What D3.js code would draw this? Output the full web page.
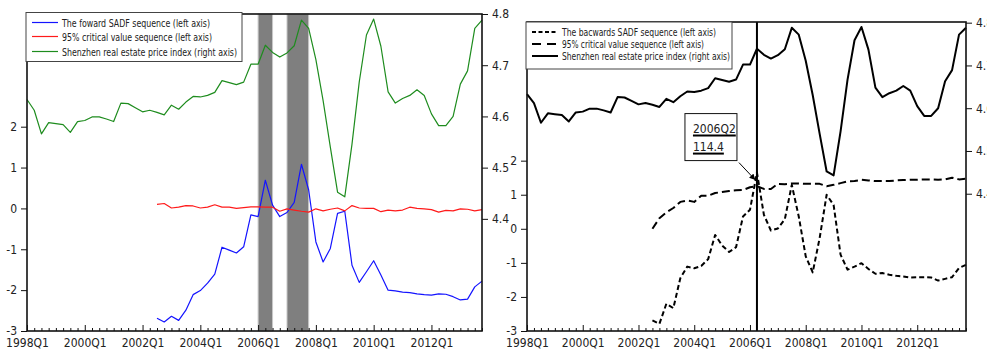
<!DOCTYPE html>
<html>
<head>
<meta charset="utf-8">
<script src="https://cdn.jsdelivr.net/npm/d3@7"></script>
<style>
  body { margin: 0; background: #fff; }
  svg text { font-family: "Liberation Sans Narrow", "Arial Narrow", "DejaVu Sans Condensed", sans-serif; fill: #222; }
</style>
</head>
<body>
<svg width="987" height="349"></svg>
<script>
// quarters 1998Q1 .. 2013Q4
const years = d3.range(1998, 2014);
const quarters = years.flatMap(y => [1, 2, 3, 4].map(q => y + 'Q' + q));
const tickLabels = ['1998Q1', '2000Q1', '2002Q1', '2004Q1', '2006Q1', '2008Q1', '2010Q1', '2012Q1'];
const leftTicks = [-3, -2, -1, 0, 1, 2];
const rightTicks = [4.4, 4.5, 4.6, 4.7, 4.8];

// Shenzhen real estate price index (log), 1998Q1..2013Q4
const priceIndex = [4.633, 4.612, 4.566, 4.588, 4.586, 4.584, 4.569, 4.590, 4.592, 4.599,
  4.599, 4.595, 4.590, 4.626, 4.625, 4.617, 4.609, 4.612, 4.608, 4.603,
  4.622, 4.614, 4.628, 4.639, 4.638, 4.641, 4.647, 4.670, 4.666, 4.662,
  4.667, 4.702, 4.702, 4.739, 4.725, 4.716, 4.724, 4.738, 4.788, 4.772,
  4.711, 4.631, 4.540, 4.452, 4.443, 4.546, 4.667, 4.759, 4.790, 4.737,
  4.648, 4.626, 4.635, 4.641, 4.652, 4.641, 4.605, 4.582, 4.582, 4.600,
  4.663, 4.689, 4.772, 4.788];

// SADF sequences start 2002Q3
const sadfStart = '2002Q3';
const forwardSADF = [-2.69, -2.78, -2.64, -2.74, -2.49, -2.11, -2.01, -1.83, -1.61, -0.95,
  -1.02, -1.09, -0.94, -0.16, -0.20, 0.69, 0.08, -0.20, -0.10, 0.15,
  1.08, 0.45, -0.82, -1.31, -0.98, -0.12, -0.07, -1.39, -1.81, -1.55,
  -1.28, -1.63, -2.00, -2.02, -2.05, -2.06, -2.09, -2.11, -2.12, -2.09,
  -2.10, -2.16, -2.24, -2.22, -1.92, -1.78];
const forwardCV = [0.10, 0.12, 0.01, 0.03, 0.07, 0.06, 0.01, 0.03, 0.09, 0.03,
  0.03, 0.00, 0.02, 0.04, 0.04, 0.03, 0.03, -0.07, -0.01, -0.04,
  -0.07, -0.09, -0.01, -0.06, -0.02, 0.01, -0.06, 0.07, 0.01, 0.00,
  0.00, -0.08, -0.04, -0.06, -0.04, 0.03, 0.00, -0.01, -0.03, -0.09,
  -0.05, -0.06, -0.01, -0.02, -0.06, -0.03];
const backwardSADF = [-2.69, -2.79, -2.20, -2.33, -1.45, -1.11, -1.16, -1.09, -0.89, -0.18,
  -0.49, -0.68, -0.54, 0.36, 0.56, 1.65, 0.41, -0.05, 0.01, 0.28,
  1.29, 0.36, -0.81, -1.28, -0.27, 1.00, 0.70, -0.76, -1.20, -1.11,
  -1.01, -1.18, -1.32, -1.30, -1.35, -1.38, -1.40, -1.43, -1.42, -1.42,
  -1.43, -1.52, -1.47, -1.42, -1.15, -1.06];
const backwardCV = [0.00, 0.31, 0.48, 0.61, 0.79, 0.83, 0.79, 0.97, 0.97, 1.05,
  1.08, 1.11, 1.13, 1.14, 1.22, 1.25, 1.17, 1.17, 1.32, 1.31,
  1.33, 1.33, 1.32, 1.32, 1.32, 1.25, 1.29, 1.34, 1.39, 1.40,
  1.44, 1.42, 1.40, 1.40, 1.40, 1.42, 1.43, 1.44, 1.44, 1.45,
  1.45, 1.44, 1.45, 1.50, 1.45, 1.47];

// bubble periods (shaded) and the marked date
const shadeStart = ['2006Q1', '2007Q1'];
const shadeEnd = ['2006Q3', '2007Q4'];
const markQuarter = '2006Q2';
const markLabel = ['2006Q2', '114.4'];

const svg = d3.select('svg');

function toPoints(values, start) {
  const i0 = quarters.indexOf(start);
  return values.map((v, i) => ({q: quarters[i0 + i], v: v}));
}
const pricePts = priceIndex.map((v, i) => ({q: quarters[i], v: v}));

function drawPanel(p) {
  const g = svg.append('g');
  const x = d3.scalePoint().domain(quarters).range([p.x0, p.x1]);
  const yL = d3.scaleLinear().domain(p.leftDomain).range([p.y1, p.y0]);
  const yR = d3.scaleLinear().domain(p.rightDomain).range([p.y1, p.y0]);

  // shading
  if (p.shade) {
    g.selectAll('rect.shade')
      .data(d3.zip(shadeStart, shadeEnd))
      .join('rect')
      .attr('x', d => x(d[0]))
      .attr('width', d => x(d[1]) - x(d[0]))
      .attr('y', p.y0)
      .attr('height', p.y1 - p.y0)
      .attr('fill', '#7f7f7f')
      .attr('stroke', '#c8c8c8')
      .attr('stroke-width', 1);
  }

  // vertical marker line
  if (p.mark) {
    g.append('line')
      .attr('x1', x(markQuarter)).attr('x2', x(markQuarter))
      .attr('y1', p.y0).attr('y2', p.y1)
      .attr('stroke', '#000').attr('stroke-width', 2);
  }

  // series
  p.series.forEach(s => {
    const yy = s.axis === 'right' ? yR : yL;
    const line = d3.line().x(d => x(d.q)).y(d => yy(d.v));
    g.append('path')
      .datum(s.data)
      .attr('d', line)
      .attr('fill', 'none')
      .attr('stroke', s.color)
      .attr('stroke-width', s.width)
      .attr('stroke-dasharray', s.dash || null)
      .attr('stroke-linejoin', 'round');
  });

  // frame
  g.append('rect')
    .attr('x', p.x0).attr('y', p.y0)
    .attr('width', p.x1 - p.x0).attr('height', p.y1 - p.y0)
    .attr('fill', 'none').attr('stroke', '#111').attr('stroke-width', 1.6);

  // bottom axis, ticks pointing up
  const xAxis = g.append('g')
    .attr('transform', `translate(0,${p.y1})`)
    .call(d3.axisBottom(x).tickValues(quarters).tickSize(-3).tickPadding(9)
      .tickFormat(d => tickLabels.includes(d) ? d : ''));
  xAxis.select('.domain').remove();
  xAxis.selectAll('.tick line').attr('stroke', '#111')
    .attr('y2', d => tickLabels.includes(d) ? -6 : -3);
  xAxis.selectAll('.tick text').attr('font-size', 12).attr('fill', '#222').attr('y', 7);

  const lAxis = g.append('g')
    .attr('transform', `translate(${p.x0},0)`)
    .call(d3.axisLeft(yL).tickValues(leftTicks).tickSize(6).tickPadding(4).tickFormat(d => String(d)));
  lAxis.select('.domain').remove();
  lAxis.selectAll('.tick line').attr('stroke', '#111');
  lAxis.selectAll('.tick text').attr('font-size', 12).attr('fill', '#222');

  const rAxis = g.append('g')
    .attr('transform', `translate(${p.x1},0)`)
    .call(d3.axisRight(yR).tickValues(rightTicks).tickSize(6).tickPadding(4).tickFormat(d3.format('.1f')));
  rAxis.select('.domain').remove();
  rAxis.selectAll('.tick line').attr('stroke', '#111');
  rAxis.selectAll('.tick text').attr('font-size', 12).attr('fill', '#222');

  // legend
  const lg = g.append('g');
  lg.append('rect')
    .attr('x', p.legend.x).attr('y', p.legend.y)
    .attr('width', p.legend.w).attr('height', p.legend.h)
    .attr('fill', '#fff').attr('stroke', '#444').attr('stroke-width', 1);
  p.series.forEach((s, i) => {
    const cy = p.legend.y + p.legend.rows[i];
    lg.append('line')
      .attr('x1', p.legend.x + 6).attr('x2', p.legend.x + 32)
      .attr('y1', cy).attr('y2', cy)
      .attr('stroke', s.color).attr('stroke-width', s.legendWidth || s.width)
      .attr('stroke-dasharray', s.legendDash || s.dash || null);
    lg.append('text')
      .attr('x', p.legend.x + 36).attr('y', cy + 4)
      .attr('font-size', 11)
      .attr('textLength', s.textW).attr('lengthAdjust', 'spacingAndGlyphs')
      .text(s.name);
  });

  return {x, yL, yR, g};
}

// left panel: forward SADF
drawPanel({
  x0: 27, x1: 482, y0: 14, y1: 331,
  leftDomain: [-3, 4.758], rightDomain: [4.181, 4.8],
  shade: true,
  legend: {x: 26, y: 12.5, w: 216, h: 49, rows: [10, 24, 39]},
  series: [
    {name: 'The foward SADF sequence (left axis)', data: toPoints(forwardSADF, sadfStart),
      axis: 'left', color: '#1414ff', width: 1.2, textW: 148},
    {name: '95% critical value sequence (left axis)', data: toPoints(forwardCV, sadfStart),
      axis: 'left', color: '#ff1a1a', width: 1.2, textW: 150},
    {name: 'Shenzhen real estate price index (right axis)', data: pricePts,
      axis: 'right', color: '#1e8c1e', width: 1.2, textW: 175}
  ]
});

// right panel: backward SADF
const rp = drawPanel({
  x0: 527, x1: 966, y0: 22, y1: 331,
  leftDomain: [-3, 6.07], rightDomain: [4.079, 4.8016],
  mark: true,
  legend: {x: 526, y: 22, w: 206, h: 47, rows: [10, 22, 34]},
  series: [
    {name: 'The bacwards SADF sequence (left axis)', data: toPoints(backwardSADF, sadfStart),
      axis: 'left', color: '#000', width: 2, dash: '5,3', legendDash: '4,2.5', textW: 154},
    {name: '95% critical value sequence (left axis)', data: toPoints(backwardCV, sadfStart),
      axis: 'left', color: '#000', width: 2, dash: '8,4', legendDash: '9,6', textW: 142},
    {name: 'Shenzhen real estate price index (right axis)', data: pricePts,
      axis: 'right', color: '#000', width: 2, textW: 168}
  ]
});

// annotation for the marked date
const peak = backwardSADF[quarters.indexOf(markQuarter) - quarters.indexOf(sadfStart)];
const mx = rp.x(markQuarter), my = rp.yL(peak);
const ann = svg.append('g');
ann.append('defs').append('marker')
  .attr('id', 'arrow').attr('viewBox', '0 0 10 10')
  .attr('refX', 9).attr('refY', 5)
  .attr('markerWidth', 6).attr('markerHeight', 6)
  .attr('orient', 'auto')
  .append('path').attr('d', 'M0,0 L10,5 L0,10 z').attr('fill', '#000');
const bx = mx - 72, by = my - 59;
ann.append('rect')
  .attr('x', bx).attr('y', by).attr('width', 52).attr('height', 47)
  .attr('fill', '#fff').attr('stroke', '#111').attr('stroke-width', 1);
markLabel.forEach((t, i) => {
  const ty = by + 19 + i * 18;
  const tx = ann.append('text')
    .attr('x', bx + 8).attr('y', ty)
    .attr('font-size', 12).attr('fill', '#333')
    .text(t);
  const w = tx.node().getComputedTextLength();
  ann.append('line')
    .attr('x1', bx + 8).attr('x2', bx + 8 + w)
    .attr('y1', ty + 3).attr('y2', ty + 3)
    .attr('stroke', '#000').attr('stroke-width', 2);
});
ann.append('line')
  .attr('x1', bx + 54).attr('y1', by + 49)
  .attr('x2', mx - 2).attr('y2', my + 7)
  .attr('stroke', '#000').attr('stroke-width', 1)
  .attr('marker-end', 'url(#arrow)');
</script>
</body>
</html>
